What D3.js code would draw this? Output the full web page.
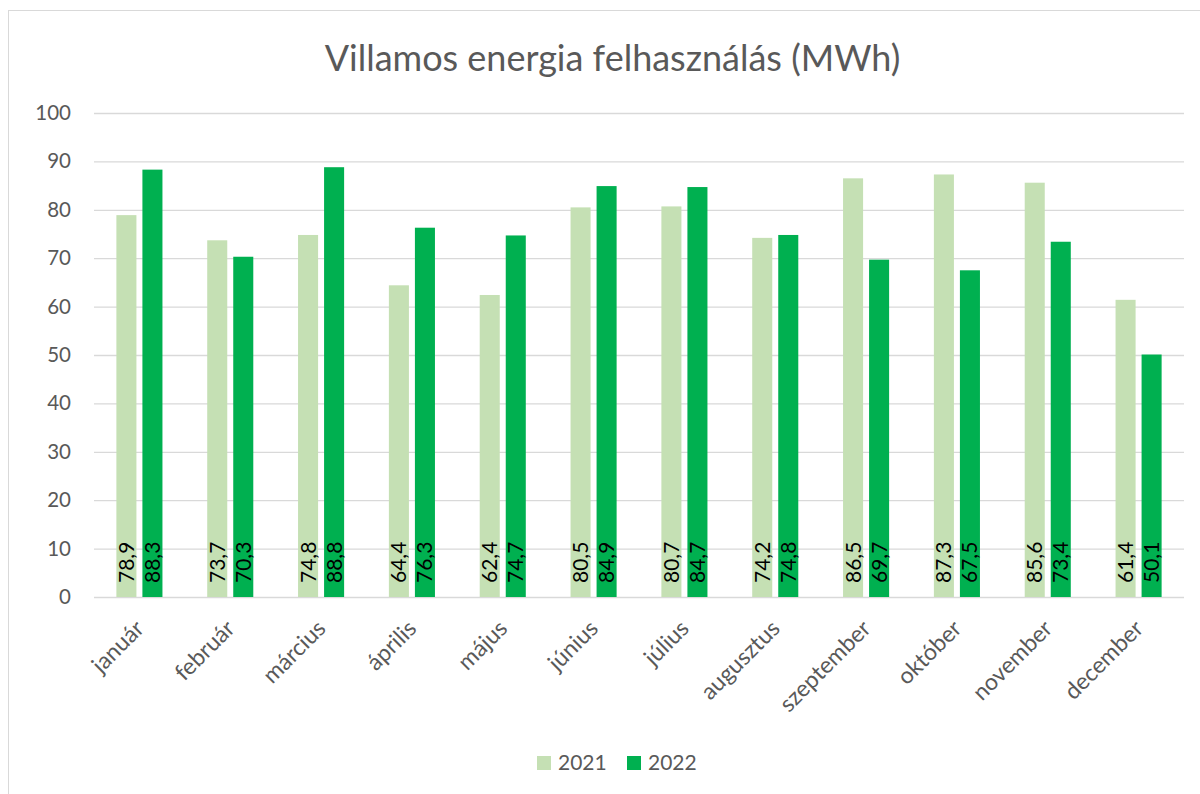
<!DOCTYPE html>
<html>
<head>
<meta charset="utf-8">
<script src="https://cdn.jsdelivr.net/npm/d3@7"></script>
<style>
  body { margin: 0; background: #fff; }
  svg { display: block; font-family: Lato, "Open Sans", sans-serif; }
</style>
</head>
<body>
<svg id="chart"></svg>
<script>
// Data
const months = ["január", "február", "március", "április", "május", "június",
  "július", "augusztus", "szeptember", "október", "november", "december"];
const years = ["2021", "2022"];
const values2021 = [78.9, 73.7, 74.8, 64.4, 62.4, 80.5, 80.7, 74.2, 86.5, 87.3, 85.6, 61.4];
const values2022 = [88.3, 70.3, 88.8, 76.3, 74.7, 84.9, 84.7, 74.8, 69.7, 67.5, 73.4, 50.1];
const yTicks = [0, 10, 20, 30, 40, 50, 60, 70, 80, 90, 100];
const colors = { "2021": "#C5E0B4", "2022": "#00B050" };

const W = 1200, H = 794;
const plot = { left: 94, right: 1184, top: 113, bottom: 597 };

const svg = d3.select("#chart").attr("width", W).attr("height", H);

// chart border
svg.append("rect")
    .attr("x", 8.5).attr("y", 10.5)
    .attr("width", 1200).attr("height", 800)
    .attr("fill", "#fff")
    .attr("stroke", "#D9D9D9");

// title
svg.append("text")
    .attr("x", (322 + 903) / 2)
    .attr("y", 71)
    .attr("text-anchor", "middle")
    .style("font-size", "36px")
    .style("fill", "#595959")
    .text("Villamos energia felhasználás (MWh)");

// scales
const x0 = d3.scaleBand()
    .domain(months)
    .range([plot.left, plot.right])
    .padding(0);

const x1 = d3.scaleBand()
    .domain(years)
    .range([0, x0.bandwidth()])
    .paddingInner(0.23)
    .paddingOuter(0.86);

const y = d3.scaleLinear()
    .domain([0, 100])
    .range([plot.bottom, plot.top]);

// y axis + gridlines
const yAxis = svg.append("g")
    .attr("transform", `translate(${plot.left},0)`)
    .call(d3.axisLeft(y).tickValues(yTicks).tickSize(-(plot.right - plot.left)).tickPadding(23));
yAxis.select(".domain").remove();
yAxis.selectAll(".tick line").style("stroke", "#D9D9D9").style("stroke-width", 1.3);
yAxis.selectAll(".tick text")
    .style("font-size", "20.5px")
    .style("font-family", "Lato, sans-serif")
    .style("fill", "#595959");

// bars
const rows = months.map((m, i) => ({ month: m, "2021": values2021[i], "2022": values2022[i] }));

const groups = svg.append("g")
  .selectAll("g")
  .data(rows)
  .join("g")
    .attr("transform", d => `translate(${x0(d.month)},0)`);

groups.selectAll("rect")
  .data(d => years.map(k => ({ key: k, value: d[k] })))
  .join("rect")
    .attr("x", d => x1(d.key))
    .attr("y", d => y(d.value))
    .attr("width", x1.bandwidth())
    .attr("height", d => y(0) - y(d.value))
    .attr("fill", d => colors[d.key]);

// data labels, rotated, at inside base
groups.selectAll("text.lbl")
  .data(d => years.map(k => ({ key: k, value: d[k] })))
  .join("text")
    .attr("class", "lbl")
    .attr("transform", d => `translate(${x1(d.key) + x1.bandwidth() / 2},${y(0) - 14}) rotate(-90)`)
    .attr("dy", "0.36em")
    .style("font-size", "21px")
    .style("fill", "#000")
    .text(d => d.value.toFixed(1).replace(".", ","));

// x axis labels
const xAxis = svg.append("g")
    .attr("transform", `translate(0,${plot.bottom})`)
    .call(d3.axisBottom(x0).tickSize(0).tickPadding(0));
xAxis.select(".domain").remove();
xAxis.selectAll(".tick text")
    .attr("text-anchor", "end")
    .attr("dy", null)
    .attr("y", 0)
    .attr("transform", "translate(6,33) rotate(-45)")
    .style("font-size", "23px")
    .style("font-family", "Lato, sans-serif")
    .style("fill", "#595959");

// legend
const legend = svg.append("g");
const legendX = [537, 627];
years.forEach((yr, i) => {
  legend.append("rect")
      .attr("x", legendX[i]).attr("y", 756)
      .attr("width", 14).attr("height", 14)
      .attr("fill", colors[yr]);
  legend.append("text")
      .attr("x", legendX[i] + 21).attr("y", 770)
      .style("font-size", "21px")
      .style("fill", "#595959")
      .text(yr);
});
</script>
</body>
</html>
